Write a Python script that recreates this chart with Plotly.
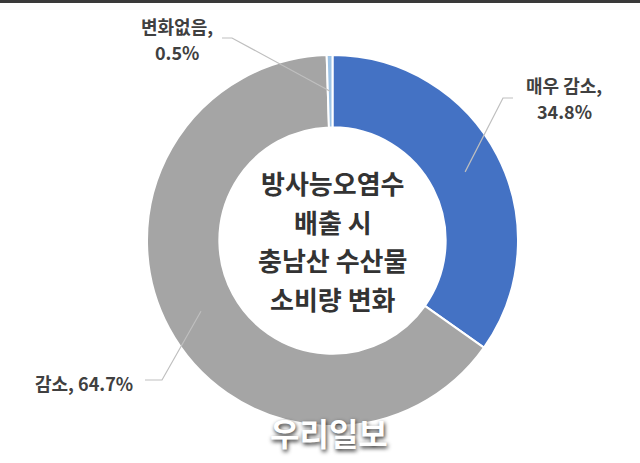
import numpy as np
import plotly.graph_objects as go

LABELS = ["매우 감소", "감소", "변화없음"]
VALUES = [34.8, 64.7, 0.5]
COLORS = ["#4472C4", "#A5A5A5", "#9DC3E6"]
LABEL_LINES = [["매우 감소,", "34.8%"], ["감소, 64.7%"], ["변화없음,", "0.5%"]]
CENTER_LINES = ["방사능오염수", "배출 시", "충남산 수산물", "소비량 변화"]
WATERMARK = "우리일보"

W, H = 640, 463
CX, CY, R = 332.5, 240.5, 185.5
HOLE = 0.61
FONT = "Noto Sans CJK KR"

# where each label block is centred, and the elbow of its leader line (pixels)
LABEL_POS = [(564, 98, "center"), (135, 383, "right"), (177, 39, "center")]
ELBOWS = [[(513, 98), (503, 98)], [(145, 380), (162, 380)], [(222, 38), (232, 38)]]


def px(x):
    return x / W


def py(y):
    return 1 - y / H


fig = go.Figure(go.Pie(
    labels=LABELS,
    values=VALUES,
    hole=HOLE,
    sort=False,
    direction="clockwise",
    rotation=0,
    marker=dict(colors=COLORS, line=dict(color="white", width=2)),
    textinfo="none",
    hoverinfo="label+percent",
    showlegend=False,
    domain=dict(x=[px(CX - R), px(CX + R)], y=[py(CY + R), py(CY - R)]),
))

# leader lines end in the middle of the ring, at each slice's mid angle
vals = np.array(VALUES)
mid = (np.cumsum(vals) - vals / 2) / vals.sum() * 2 * np.pi
r_mid = R * (1 + HOLE) / 2
anchors = [(CX + r_mid * np.sin(a), CY - r_mid * np.cos(a)) for a in mid]

shapes = []
for pts, end in zip(ELBOWS, anchors):
    pts = pts + [end]
    path = "M " + " L ".join(f"{px(x)},{py(y)}" for x, y in pts)
    shapes.append(dict(type="path", xref="paper", yref="paper", path=path,
                       line=dict(color="#BFBFBF", width=1.2)))

# dark strip along the top edge
shapes.append(dict(type="rect", xref="paper", yref="paper", x0=0, x1=1,
                   y0=py(3), y1=1, fillcolor="#3a3a3a", line=dict(width=0)))

annotations = []
label_gap = 26
for lines, (x, y, anchor) in zip(LABEL_LINES, LABEL_POS):
    for i, line in enumerate(lines):
        ly = y + (i - (len(lines) - 1) / 2) * label_gap
        annotations.append(dict(
            text=line, x=px(x), y=py(ly), xref="paper", yref="paper",
            xanchor=anchor, yanchor="middle", showarrow=False,
            font=dict(family=FONT, size=18, color="#404040", weight="bold"),
        ))

line_gap = 38.5
for i, line in enumerate(CENTER_LINES):
    y = CY + (i - (len(CENTER_LINES) - 1) / 2) * line_gap
    annotations.append(dict(
        text=line, x=px(CX), y=py(y), xref="paper", yref="paper",
        xanchor="center", yanchor="middle", showarrow=False,
        font=dict(family=FONT, size=26, color="#333333", weight="bold"),
    ))

annotations.append(dict(
    text=WATERMARK, x=px(329), y=py(432), xref="paper", yref="paper",
    xanchor="center", yanchor="middle", showarrow=False,
    font=dict(family=FONT, size=32, color="white", weight="bold",
              shadow="1px 2px 4px rgba(0,0,0,0.85)"),
))

fig.update_layout(
    width=W, height=H,
    margin=dict(l=0, r=0, t=0, b=0),
    paper_bgcolor="white",
    plot_bgcolor="white",
    shapes=shapes,
    annotations=annotations,
)

# the page's default body margin would push the figure off by 8px
fig.write_html("out.html", config={"displayModeBar": False},
               post_script="document.body.style.margin = '0';")
